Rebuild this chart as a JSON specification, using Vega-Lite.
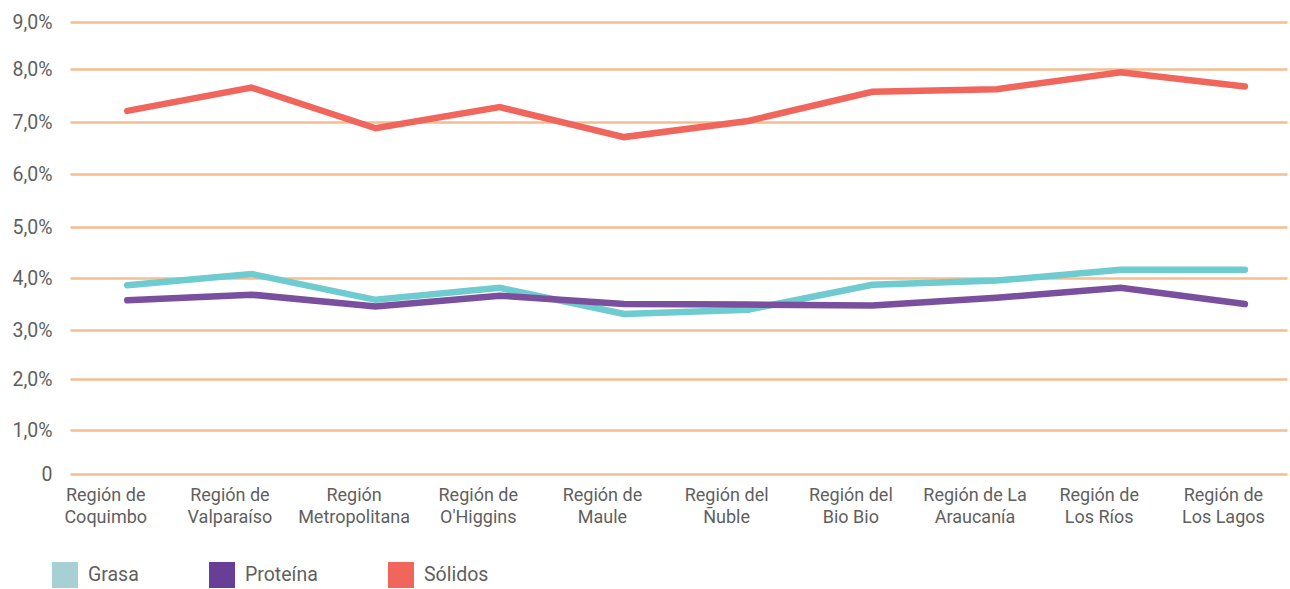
{
  "$schema": "https://vega.github.io/schema/vega-lite/v6.json",
  "width": 1217,
  "height": 452,
  "autosize": {"type": "none"},
  "padding": {"left": 70, "top": 22, "right": 3, "bottom": 115},
  "background": "white",
  "config": {
    "view": {"stroke": null},
    "font": "Roboto",
    "axis": {"labelFont": "Roboto", "labelColor": "#5f5f5f"}
  },
  "data": {
    "values": [
      {"region": "Región de|Coquimbo", "serie": "Grasa", "valor": 3.86},
      {"region": "Región de|Valparaíso", "serie": "Grasa", "valor": 4.08},
      {"region": "Región|Metropolitana", "serie": "Grasa", "valor": 3.58},
      {"region": "Región de|O'Higgins", "serie": "Grasa", "valor": 3.81},
      {"region": "Región de|Maule", "serie": "Grasa", "valor": 3.31},
      {"region": "Región del|Ñuble", "serie": "Grasa", "valor": 3.39},
      {"region": "Región del|Bio Bio", "serie": "Grasa", "valor": 3.87},
      {"region": "Región de La|Araucanía", "serie": "Grasa", "valor": 3.95},
      {"region": "Región de|Los Ríos", "serie": "Grasa", "valor": 4.16},
      {"region": "Región de|Los Lagos", "serie": "Grasa", "valor": 4.16},
      {"region": "Región de|Coquimbo", "serie": "Proteína", "valor": 3.57},
      {"region": "Región de|Valparaíso", "serie": "Proteína", "valor": 3.68},
      {"region": "Región|Metropolitana", "serie": "Proteína", "valor": 3.45},
      {"region": "Región de|O'Higgins", "serie": "Proteína", "valor": 3.66},
      {"region": "Región de|Maule", "serie": "Proteína", "valor": 3.5},
      {"region": "Región del|Ñuble", "serie": "Proteína", "valor": 3.49},
      {"region": "Región del|Bio Bio", "serie": "Proteína", "valor": 3.47},
      {"region": "Región de La|Araucanía", "serie": "Proteína", "valor": 3.62},
      {"region": "Región de|Los Ríos", "serie": "Proteína", "valor": 3.81},
      {"region": "Región de|Los Lagos", "serie": "Proteína", "valor": 3.5},
      {"region": "Región de|Coquimbo", "serie": "Sólidos", "valor": 7.21},
      {"region": "Región de|Valparaíso", "serie": "Sólidos", "valor": 7.65},
      {"region": "Región|Metropolitana", "serie": "Sólidos", "valor": 6.88},
      {"region": "Región de|O'Higgins", "serie": "Sólidos", "valor": 7.28},
      {"region": "Región de|Maule", "serie": "Sólidos", "valor": 6.71},
      {"region": "Región del|Ñuble", "serie": "Sólidos", "valor": 7.02},
      {"region": "Región del|Bio Bio", "serie": "Sólidos", "valor": 7.57},
      {"region": "Región de La|Araucanía", "serie": "Sólidos", "valor": 7.62},
      {"region": "Región de|Los Ríos", "serie": "Sólidos", "valor": 7.94},
      {"region": "Región de|Los Lagos", "serie": "Sólidos", "valor": 7.67}
    ]
  },
  "mark": {"type": "line", "strokeWidth": 6.5, "strokeCap": "round", "strokeJoin": "miter"},
  "encoding": {
    "x": {
      "field": "region",
      "type": "ordinal",
      "sort": null,
      "scale": {"type": "point", "padding": 0.4, "align": 0.576},
      "axis": {
        "title": null,
        "labelAngle": 0,
        "domain": false,
        "ticks": false,
        "labelPadding": 12,
        "labelOffset": -22,
        "labelFontSize": 18,
        "labelLineHeight": 22,
        "labelBaseline": "top",
        "labelExpr": "split(datum.value, '|')"
      }
    },
    "y": {
      "field": "valor",
      "type": "quantitative",
      "scale": {"domain": [0, 1, 2, 3, 4, 5, 6, 7, 8, 9], "range": [452, 408, 357, 308, 256, 205, 152, 100, 47, 0], "nice": false},
      "axis": {
        "title": null,
        "values": [0, 1, 2, 3, 4, 5, 6, 7, 8, 9],
        "domain": false,
        "ticks": false,
        "labelPadding": 18,
        "labelFontSize": 19.5,
        "gridColor": "#f5be90",
        "gridWidth": 2.5,
        "gridOpacity": 1,
        "labelExpr": "datum.value == 0 ? '0' : replace(format(datum.value, '.1f'), '.', ',') + '%'"
      }
    },
    "color": {
      "field": "serie",
      "type": "nominal",
      "scale": {"domain": ["Grasa", "Proteína", "Sólidos"], "range": ["#6ecbcf", "#7a4f9e", "#f0665d"]},
      "legend": {
        "title": null,
        "orient": "none",
        "legendX": -18,
        "legendY": 540,
        "direction": "horizontal",
        "symbolType": "square",
        "symbolSize": 676,
        "symbolStrokeWidth": 0,
        "symbolOpacity": 1,
        "labelFontSize": 19.5,
        "labelColor": "#5f5f5f",
        "labelFont": "Roboto",
        "labelOffset": 10,
        "columnPadding": 70,
        "encode": {
          "symbols": {
            "update": {
              "fill": {"signal": "datum.value == 'Grasa' ? '#a6d0d4' : datum.value == 'Proteína' ? '#673f96' : '#f0665d'"},
              "stroke": {"value": "transparent"},
              "strokeWidth": {"value": 0}
            }
          }
        }
      }
    }
  }
}
